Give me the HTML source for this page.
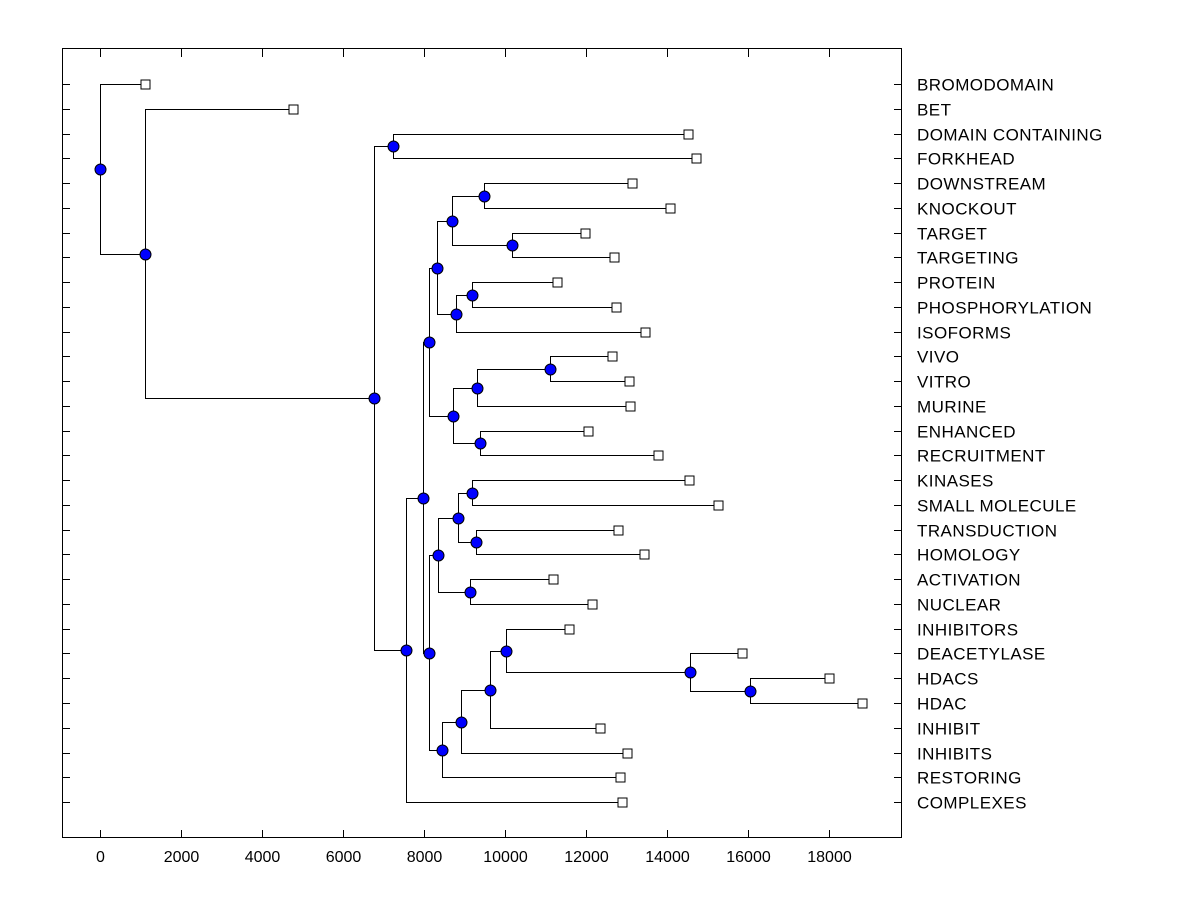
<!DOCTYPE html>
<html><head><meta charset="utf-8"><style>
html,body{margin:0;padding:0;background:#fff;width:1200px;height:900px;overflow:hidden}
text{font-family:"Liberation Sans",Arial,sans-serif;font-size:16px;fill:#000}
text.lb{font-size:17px;letter-spacing:0.45px}
</style></head><body>
<svg id="s" width="1200" height="900" xmlns="http://www.w3.org/2000/svg"></svg>
<script>
const svg=document.getElementById('s');let h='';
const Y=i=>Math.round(84+i*24.76)+0.5;
const L=["BROMODOMAIN","BET","DOMAIN CONTAINING","FORKHEAD","DOWNSTREAM","KNOCKOUT","TARGET","TARGETING","PROTEIN","PHOSPHORYLATION","ISOFORMS","VIVO","VITRO","MURINE","ENHANCED","RECRUITMENT","KINASES","SMALL MOLECULE","TRANSDUCTION","HOMOLOGY","ACTIVATION","NUCLEAR","INHIBITORS","DEACETYLASE","HDACS","HDAC","INHIBIT","INHIBITS","RESTORING","COMPLEXES"];
const LX=[145,293,688,696,632,670,585,614,557,616,645,612,629,630,588,658,689,718,618,644,553,592,569,742,829,862,600,627,620,622];
const N={
root:[100,0,'A'],A:[145,1,'B'],B:[374,'C','D'],C:[393,2,3],D:[406,'E',29],E:[423,'F','G'],
F:[429,'H','I'],H:[437,'J','K'],J:[452,'L','M'],L:[484,4,5],M:[512,6,7],K:[456,'N',10],N:[472,8,9],
I:[453,'O','P'],O:[477,'Q',13],Q:[550,11,12],P:[480,14,15],G:[429,'R','S'],R:[438,'T','U'],
T:[458,'V','W'],V:[472,16,17],W:[476,18,19],U:[470,20,21],S:[442,'X',28],X:[461,'Y',27],
Y:[490,'Z',26],Z:[506,22,'AA'],AA:[690,23,'BB'],BB:[750,24,25]};
const ny={};
function gy(c){if(typeof c==='number')return Y(c);if(ny[c]!==undefined)return ny[c];const n=N[c];return ny[c]=Math.round((gy(n[1])+gy(n[2]))/2-0.5)+0.5;}
function gx(c){return (typeof c==='number'?LX[c]:N[c][0])+0.5;}
let lines='',dots='',sq='';
for(const k in N){const [x0,a,b]=N[k];const x=x0+0.5;const ya=gy(a),yb=gy(b);
 lines+=`<path d="M${gx(a)} ${ya}H${x}V${yb}H${gx(b)}"/>`;
 dots+=`<circle cx="${x}" cy="${gy(k)}" r="5.5"/>`;}
L.forEach((t,i)=>{const y=Y(i);
 sq+=`<rect x="${LX[i]-4}" y="${y-4.5}" width="9" height="9"/>`;
 h+=`<line x1="62" y1="${y}" x2="70" y2="${y}"/><line x1="894" y1="${y}" x2="902" y2="${y}"/>`;
 h+=`<text class="lb" x="917" y="${y+6}" stroke="none">${t}</text>`;});
let ax='';
for(let v=0;v<=18000;v+=2000){const x=Math.round(100+v*0.0405)+0.5;
 ax+=`<line x1="${x}" y1="49" x2="${x}" y2="57"/><line x1="${x}" y1="830" x2="${x}" y2="838"/>`;
 ax+=`<text x="${x}" y="862" text-anchor="middle" stroke="none">${v}</text>`;}
svg.innerHTML=`<g stroke="#000" stroke-width="1" fill="none">
<rect x="62.5" y="48.5" width="839" height="789"/>${ax}${h}${lines}</g>
<g fill="#fff" stroke="#000" stroke-width="1">${sq}</g>
<g fill="#0000ff" stroke="#000" stroke-width="1">${dots}</g>`;
</script>
</body></html>
